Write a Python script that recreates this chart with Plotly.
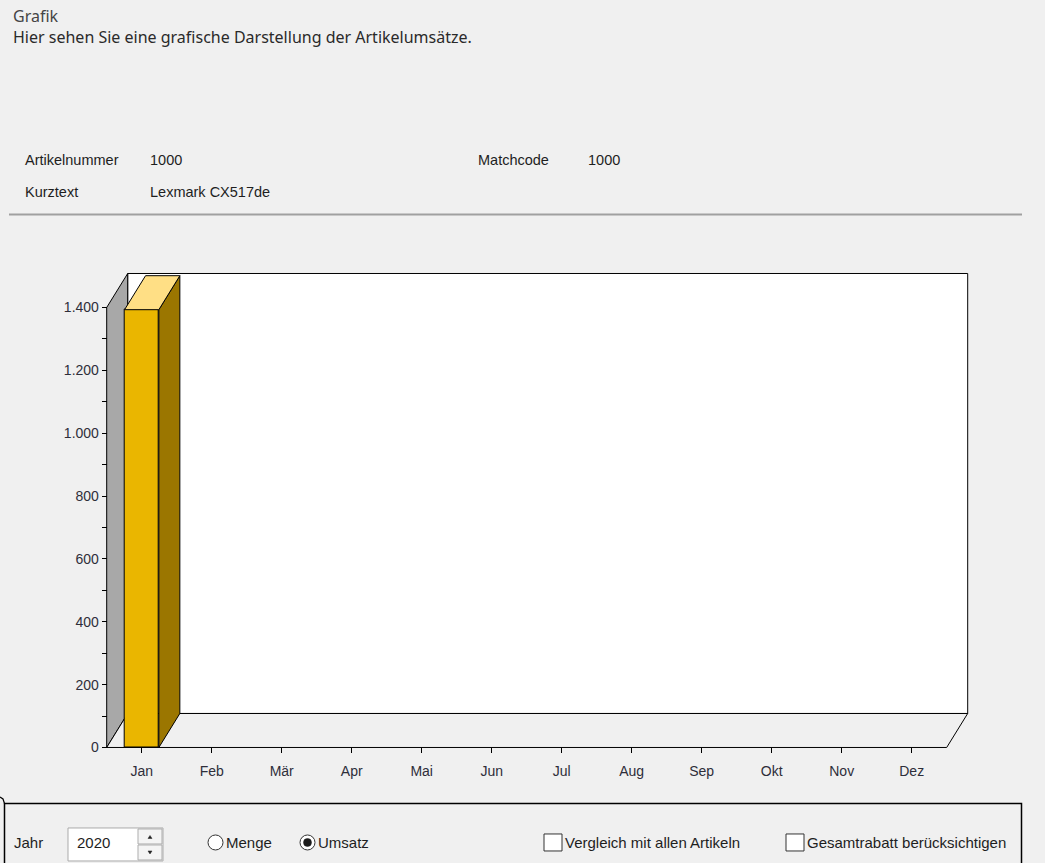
import plotly.graph_objects as go

# ---------------- data ----------------
months = ["Jan", "Feb", "Mär", "Apr", "Mai", "Jun", "Jul", "Aug", "Sep", "Okt", "Nov", "Dez"]
umsatz = [1393, 0, 0, 0, 0, 0, 0, 0, 0, 0, 0, 0]
y_major = [0, 200, 400, 600, 800, 1000, 1200, 1400]
y_minor = [100, 300, 500, 700, 900, 1100, 1300]
y_max = 1400

# ---------------- geometry (pixels of the target picture) ----------------
W, H = 1045, 863
S = 868.0 / 863.0            # page is a little taller than the figure; compensate vertically
FX0, FX1 = 106.7, 946.7
FY0, FYTOP = 747.5 * S, 307.5 * S
DXP, DYP = 21.0, 34.0 * S
PAD = 3.0
BG = "#F0F0F0"

n = len(months)
xs = (FX1 - FX0) / n
ys = (FY0 - FYTOP) / y_max
DX = DXP / xs
DY = DYP / ys
BW = 0.49

xr = [-0.5 - PAD / xs, n - 0.5 + DX + PAD / xs]
yr = [-PAD / ys, y_max + DY + PAD / ys]
xdom = [(FX0 - PAD) / W, (FX1 + DXP + PAD) / W]
ydom = [(H - (FY0 + PAD)) / H, (H - (FYTOP - DYP - PAD)) / H]


def px(x):
    return x / W


def py(y):
    return (H - y * S) / H


def ppath(points, close=True):
    s = "M " + " L ".join(f"{px(x):.6f},{py(y):.6f}" for x, y in points)
    return s + (" Z" if close else "")


fig = go.Figure()

xi = list(range(n))
fig.add_trace(go.Bar(
    x=xi, y=umsatz, width=BW,
    marker=dict(color="#EAB600",
                line=dict(color="black", width=[1 if v > 0 else 0 for v in umsatz])),
    hoverinfo="skip", showlegend=False,
))

side_x, side_y, top_x, top_y = [], [], [], []
for i, v in zip(xi, umsatz):
    if v <= 0:
        continue
    l, r = i - BW / 2, i + BW / 2
    side_x += [r, r, r + DX, r + DX, r, None]
    side_y += [0, v, v + DY, DY, 0, None]
    top_x += [l, r, r + DX, l + DX, l, None]
    top_y += [v, v, v + DY, v + DY, v, None]

fig.add_trace(go.Scatter(x=side_x, y=side_y, mode="lines", fill="toself",
                         fillcolor="#9B7600", line=dict(color="black", width=1),
                         hoverinfo="skip", showlegend=False))
fig.add_trace(go.Scatter(x=top_x, y=top_y, mode="lines", fill="toself",
                         fillcolor="#FFDF85", line=dict(color="black", width=1),
                         hoverinfo="skip", showlegend=False))

shapes = []
# back wall, left wall, floor of the 3D box
shapes.append(dict(type="rect", xref="x", yref="y", layer="below",
                   x0=-0.5 + DX, x1=n - 0.5 + DX, y0=DY, y1=y_max + DY,
                   fillcolor="white", line=dict(color="black", width=1)))
shapes.append(dict(type="path", xref="x", yref="y", layer="below",
                   path=f"M -0.5,0 L -0.5,{y_max} L {-0.5 + DX},{y_max + DY} L {-0.5 + DX},{DY} Z",
                   fillcolor="#A8A8A8", line=dict(color="black", width=1)))
shapes.append(dict(type="path", xref="x", yref="y", layer="below",
                   path=f"M -0.5,0 L {n - 0.5},0 L {n - 0.5 + DX},{DY} L {-0.5 + DX},{DY} Z",
                   fillcolor=BG, line=dict(color="black", width=1)))

# separator line
shapes.append(dict(type="line", xref="paper", yref="paper",
                   x0=px(9), x1=px(1022), y0=py(214.5), y1=py(214.5),
                   line=dict(color="#A0A0A0", width=2)))

# bottom control panel frame
shapes.append(dict(type="path", xref="paper", yref="paper",
                   path=ppath([(4.5, 880), (4.5, 803.5), (1021.5, 803.5), (1021.5, 880)], close=False),
                   line=dict(color="black", width=1.5)))
shapes.append(dict(type="path", xref="paper", yref="paper",
                   path=ppath([(0, 797), (3, 799), (4.5, 803.5)], close=False),
                   line=dict(color="black", width=1.2)))

# spin box
shapes.append(dict(type="rect", xref="paper", yref="paper",
                   x0=px(68), x1=px(163), y0=py(828), y1=py(861),
                   fillcolor="white", line=dict(color="#ABABAB", width=1)))
shapes.append(dict(type="rect", xref="paper", yref="paper",
                   x0=px(138), x1=px(162), y0=py(829), y1=py(844),
                   fillcolor="#F4F4F4", line=dict(color="#ADADAD", width=1)))
shapes.append(dict(type="rect", xref="paper", yref="paper",
                   x0=px(138), x1=px(162), y0=py(845), y1=py(860),
                   fillcolor="#F4F4F4", line=dict(color="#ADADAD", width=1)))
shapes.append(dict(type="path", xref="paper", yref="paper",
                   path=ppath([(148, 838.5), (152, 838.5), (150, 835.5)]),
                   fillcolor="#222", line=dict(color="#222", width=0.5)))
shapes.append(dict(type="path", xref="paper", yref="paper",
                   path=ppath([(148, 851), (152, 851), (150, 854)]),
                   fillcolor="#222", line=dict(color="#222", width=0.5)))

# radio buttons
for cx, filled in [(215.5, False), (307.5, True)]:
    shapes.append(dict(type="circle", xref="paper", yref="paper",
                       x0=px(cx - 7.5), x1=px(cx + 7.5), y0=py(842.5 - 7.5), y1=py(842.5 + 7.5),
                       fillcolor="white", line=dict(color="#333333", width=1)))
    if filled:
        shapes.append(dict(type="circle", xref="paper", yref="paper",
                           x0=px(cx - 4), x1=px(cx + 4), y0=py(842.5 - 4), y1=py(842.5 + 4),
                           fillcolor="#1A1A1A", line=dict(color="#1A1A1A", width=0.5)))

# check boxes
for x0 in [544, 786]:
    shapes.append(dict(type="rect", xref="paper", yref="paper",
                       x0=px(x0), x1=px(x0 + 18), y0=py(834), y1=py(851),
                       fillcolor="white", line=dict(color="#333333", width=1)))

annotations = []


def txt(x, y, s, size, color="#1E1E1E", family="Liberation Sans, Arial, sans-serif"):
    annotations.append(dict(x=px(x), y=py(y), xref="paper", yref="paper", text=s,
                            showarrow=False, xanchor="left", yanchor="middle",
                            font=dict(size=size, color=color, family=family)))


HF = "Noto Sans, Open Sans, sans-serif"
txt(11, 16, "Grafik", 16, "#454545", HF)
txt(11, 37, "Hier sehen Sie eine grafische Darstellung der Artikelumsätze.", 16, "#2A2A2A", HF)

txt(23, 160, "Artikelnummer", 14.5)
txt(148, 160, "1000", 14.5)
txt(476, 160, "Matchcode", 14.5)
txt(586, 160, "1000", 14.5)
txt(23, 192, "Kurztext", 14.5)
txt(148, 192, "Lexmark CX517de", 14.5)

txt(12, 843, "Jahr", 15)
txt(75, 843, "2020", 15)
txt(224, 843, "Menge", 15)
txt(316, 843, "Umsatz", 15)
txt(563, 843, "Vergleich mit allen Artikeln", 15)
txt(805, 843, "Gesamtrabatt berücksichtigen", 15)

axfont = dict(size=14, color="#2E2E3A", family="Liberation Sans, Arial, sans-serif")

fig.update_layout(
    width=W, height=H,
    margin=dict(l=0, r=0, t=0, b=0),
    paper_bgcolor=BG, plot_bgcolor="rgba(0,0,0,0)",
    separators=",.",
    showlegend=False,
    bargap=0,
    shapes=shapes,
    annotations=annotations,
    xaxis=dict(range=xr, domain=xdom, anchor="free", position=(H - FY0) / H,
               tickmode="array", tickvals=xi, ticktext=months,
               ticks="outside", ticklen=5, tickcolor="black", tickwidth=1,
               ticklabelstandoff=6,
               showline=False, showgrid=False, zeroline=False,
               tickfont=axfont, fixedrange=True),
    yaxis=dict(range=yr, domain=ydom, anchor="free", position=px(FX0),
               tickmode="array", tickvals=y_major, tickformat=",d",
               ticks="outside", ticklen=5, tickcolor="black", tickwidth=1,
               minor=dict(tickvals=y_minor, ticks="outside", ticklen=5,
                          tickcolor="black", tickwidth=1, showgrid=False),
               showline=False, showgrid=False, zeroline=False,
               tickfont=axfont, fixedrange=True),
)

fig.write_html("out.html", config={"displayModeBar": False})
